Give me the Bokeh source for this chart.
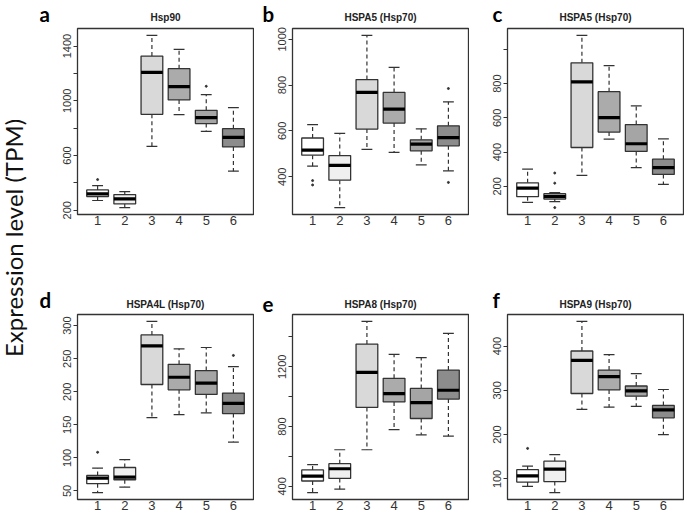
import math
from bokeh.plotting import figure
from bokeh.models import Range1d, FixedTicker
from bokeh.layouts import row, column
from bokeh.embed import file_html
from bokeh.resources import INLINE
from bokeh.core.properties import value

# ---------------- data ----------------
groups = [1, 2, 3, 4, 5, 6]
group_labels = ["1", "2", "3", "4", "5", "6"]
box_fills = ["#FFFFFF", "#F0F0F0", "#D9D9D9", "#ABABAB", "#A5A5A5", "#8C8C8C"]

titles = ["Hsp90", "HSPA5 (Hsp70)", "HSPA5 (Hsp70)",
          "HSPA4L (Hsp70)", "HSPA8 (Hsp70)", "HSPA9 (Hsp70)"]
letters = ["a", "b", "c", "d", "e", "f"]
y_title = "Expression level (TPM)"

# a: Hsp90
a_low = [271, 219, 667, 899, 777, 485]
a_q1 = [300, 246, 901, 1006, 833, 663]
a_med = [319, 283, 1208, 1103, 877, 733]
a_q3 = [348, 314, 1327, 1235, 930, 796]
a_high = [380, 336, 1478, 1376, 1045, 950]
a_out_x = [1, 5]
a_out_y = [424, 1106]
a_ticks = [200, 400, 600, 800, 1000, 1200, 1400]
a_tick_labels = ["200", "", "600", "", "1000", "", "1400"]

# b: HSPA5
b_low = [446, 265, 519, 506, 452, 425]
b_q1 = [494, 385, 608, 634, 513, 535]
b_med = [516, 449, 768, 695, 542, 571]
b_q3 = [569, 492, 824, 768, 561, 622]
b_high = [627, 589, 1017, 877, 609, 727]
b_out_x = [1, 1, 6, 6]
b_out_y = [383, 364, 785, 375]
b_ticks = [400, 600, 800, 1000]
b_tick_labels = ["400", "600", "800", "1000"]

# c: HSPA5
c_low = [107, 111, 264, 476, 309, 212]
c_q1 = [140, 126, 427, 517, 404, 270]
c_med = [190, 140, 810, 602, 449, 309]
c_q3 = [221, 157, 922, 753, 561, 359]
c_high = [301, 163, 1082, 905, 670, 478]
c_out_x = [2, 2, 2]
c_out_y = [278, 219, 76]
c_ticks = [200, 400, 600, 800, 1000]
c_tick_labels = ["200", "400", "600", "800", ""]

# d: HSPA4L
d_low = [47.5, 56, 161, 165.5, 168, 124]
d_q1 = [61, 67, 211, 203, 196, 167]
d_med = [69.5, 71, 269.5, 222, 213, 182.5]
d_q3 = [73.5, 85.5, 286, 241.5, 232, 198]
d_high = [84.5, 97.5, 306.5, 265, 267, 238]
d_out_x = [1, 6]
d_out_y = [108.5, 255]
d_ticks = [50, 100, 150, 200, 250, 300]
d_tick_labels = ["50", "100", "150", "200", "250", "300"]

# e: HSPA8
e_low = [358, 381, 645, 779, 745, 736]
e_q1 = [436, 453, 928, 965, 854, 984]
e_med = [468, 518, 1162, 1021, 960, 1043]
e_q3 = [510, 552, 1352, 1123, 1055, 1178]
e_high = [545, 645, 1504, 1283, 1261, 1423]
e_out_x = []
e_out_y = []
e_ticks = [400, 600, 800, 1000, 1200, 1400]
e_tick_labels = ["400", "", "800", "", "1200", ""]

# f: HSPA9
f_low = [83, 69, 257, 262, 264, 200]
f_q1 = [93, 94, 293, 301, 287, 238]
f_med = [107, 122, 368, 331, 299, 256]
f_q3 = [121, 140, 389, 346, 310, 266]
f_high = [129, 155, 456, 381, 338, 302]
f_out_x = [1]
f_out_y = [169]
f_ticks = [100, 200, 300, 400]
f_tick_labels = ["100", "200", "300", "400"]

panels = [
    (a_low, a_q1, a_med, a_q3, a_high, a_out_x, a_out_y, a_ticks, a_tick_labels),
    (b_low, b_q1, b_med, b_q3, b_high, b_out_x, b_out_y, b_ticks, b_tick_labels),
    (c_low, c_q1, c_med, c_q3, c_high, c_out_x, c_out_y, c_ticks, c_tick_labels),
    (d_low, d_q1, d_med, d_q3, d_high, d_out_x, d_out_y, d_ticks, d_tick_labels),
    (e_low, e_q1, e_med, e_q3, e_high, e_out_x, e_out_y, e_ticks, e_tick_labels),
    (f_low, f_q1, f_med, f_q3, f_high, f_out_x, f_out_y, f_ticks, f_tick_labels),
]

# ---------------- layout constants ----------------
TITLE_W = 39
L, FW, R = 38, 176, 1
COLW = L + FW + R
HEAD_H = 26
TOP = 2
FH_TOP, FH_BOT = 186, 185
B_TOP_ROW, B_BOT_ROW = 72, 15
TOTAL_H = HEAD_H + TOP + FH_TOP + B_TOP_ROW + HEAD_H + TOP + FH_BOT + B_BOT_ROW
letter_x = [0, 223, 453]
title_y = [4, 3]

INK = "#333333"
BOXW = 0.8
CAPW = 0.4


def make_header(idx, ty):
    h = figure(width=3 * COLW, height=HEAD_H, x_range=Range1d(0, 3 * COLW),
               y_range=Range1d(0, HEAD_H), toolbar_location=None,
               output_backend="svg", x_axis_location=None, y_axis_location=None,
               min_border=0)
    h.xgrid.visible = False
    h.ygrid.visible = False
    h.outline_line_color = None
    col_x = [k * COLW for k in range(3)]
    h.text(x=[cx + L + FW / 2 for cx in col_x], y=[ty] * 3,
           text=[titles[i] for i in idx], text_align="center",
           text_baseline="bottom", text_font=value("Liberation Sans"),
           text_font_style="bold", text_font_size="10px", text_color="#222222")
    h.text(x=letter_x, y=[0.4] * 3,
           text=[letters[i] for i in idx], text_align="left",
           text_baseline="bottom", text_font=value("Lato"),
           text_font_style="bold", text_font_size="20.5px", text_color="black")
    return h


def make_panel(i):
    low, q1, med, q3, high, ox, oy, ticks, tlabels = panels[i]
    lo_all = min(low + oy)
    hi_all = max(high + oy)
    pad = 0.04 * (hi_all - lo_all)
    bottom_border = B_TOP_ROW if i < 3 else B_BOT_ROW
    fh = FH_TOP if i < 3 else FH_BOT
    p = figure(width=COLW, height=TOP + fh + bottom_border,
               x_range=Range1d(0.5 - 0.24, 6.5 + 0.24),
               y_range=Range1d(lo_all - pad, hi_all + pad),
               toolbar_location=None, output_backend="svg",
               min_border_left=L, min_border_right=R,
               min_border_top=TOP, min_border_bottom=bottom_border)
    p.xgrid.visible = False
    p.ygrid.visible = False
    p.outline_line_color = INK
    p.outline_line_width = 1.3
    p.background_fill_color = "white"
    p.border_fill_color = "white"

    # whiskers
    p.segment(x0=groups, y0=q3, x1=groups, y1=high, line_color=INK,
              line_width=1.2, line_dash="4 3")
    p.segment(x0=groups, y0=q1, x1=groups, y1=low, line_color=INK,
              line_width=1.2, line_dash="4 3")
    # caps
    cap_l = [g - CAPW / 2 for g in groups]
    cap_r = [g + CAPW / 2 for g in groups]
    p.segment(x0=cap_l, y0=high, x1=cap_r, y1=high, line_color=INK, line_width=1.2)
    p.segment(x0=cap_l, y0=low, x1=cap_r, y1=low, line_color=INK, line_width=1.2)
    # boxes
    p.vbar(x=groups, width=BOXW, bottom=q1, top=q3, fill_color=box_fills,
           line_color=INK, line_width=1.3)
    # medians
    med_l = [g - BOXW / 2 for g in groups]
    med_r = [g + BOXW / 2 for g in groups]
    p.segment(x0=med_l, y0=med, x1=med_r, y1=med, line_color="black",
              line_width=3.2)
    # outliers
    if ox:
        p.scatter(x=ox, y=oy, size=2.0, color=INK)

    # x axis
    xa = p.xaxis[0]
    xa.ticker = FixedTicker(ticks=groups)
    xa.major_label_overrides = {g: s for g, s in zip(groups, group_labels)}
    xa.major_tick_out = 0
    xa.major_tick_in = 0
    xa.minor_tick_line_color = None
    xa.axis_line_color = None
    xa.major_label_standoff = 1
    xa.major_label_text_font = "Liberation Sans"
    xa.major_label_text_font_size = "13px"
    xa.major_label_text_color = INK

    # y axis
    ya = p.yaxis[0]
    ya.ticker = FixedTicker(ticks=ticks)
    ya.major_label_overrides = {t: s for t, s in zip(ticks, tlabels)}
    ya.major_label_orientation = "vertical"
    ya.major_tick_out = 4
    ya.major_tick_in = 0
    ya.major_tick_line_color = INK
    ya.minor_tick_line_color = None
    ya.axis_line_color = None
    ya.major_label_standoff = 2
    ya.major_label_text_font = "Liberation Sans"
    ya.major_label_text_font_size = "11px"
    ya.major_label_text_color = INK
    return p


figs = [make_panel(i) for i in range(6)]
head_top = make_header([0, 1, 2], title_y[0])
head_bot = make_header([3, 4, 5], title_y[1])

# y axis title column
pt = figure(width=TITLE_W, height=TOTAL_H, x_range=Range1d(0, TITLE_W),
            y_range=Range1d(0, TOTAL_H), toolbar_location=None,
            output_backend="svg", x_axis_location=None, y_axis_location=None,
            min_border=0)
pt.xgrid.visible = False
pt.ygrid.visible = False
pt.outline_line_color = None
pt.text(x=[27], y=[TOTAL_H - 237.5], text=[y_title],
        angle=math.pi / 2, text_align="center", text_baseline="bottom",
        text_font=value("Lato"), text_font_size="24px", text_color="#111111")

layout = row(pt, column(head_top,
                        row(figs[0], figs[1], figs[2]),
                        head_bot,
                        row(figs[3], figs[4], figs[5])))

open("out.html", "w").write(file_html(layout, INLINE))
